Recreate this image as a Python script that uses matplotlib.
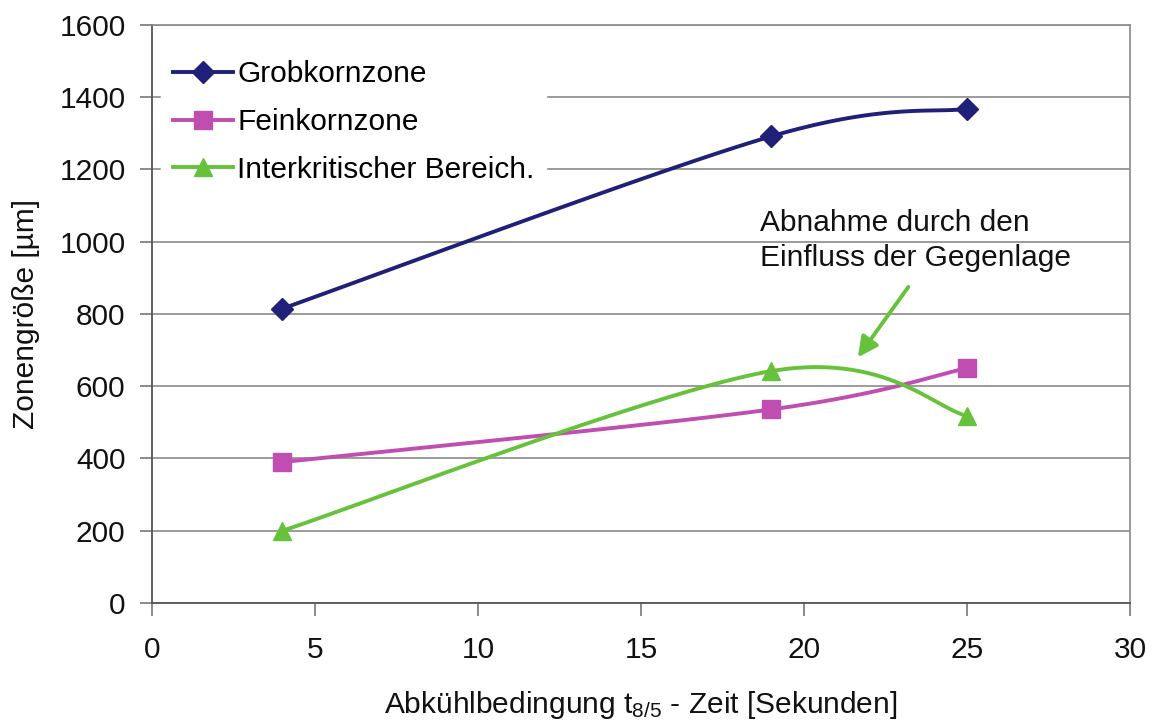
import numpy as np
import matplotlib
matplotlib.use("Agg")
import matplotlib.pyplot as plt
from matplotlib.lines import Line2D

plt.rcParams['font.family'] = ['Liberation Sans', 'DejaVu Sans']
plt.rcParams['mathtext.fontset'] = 'custom'
plt.rcParams['mathtext.rm'] = 'Liberation Sans'
plt.rcParams['mathtext.it'] = 'Liberation Sans'

# Abkühlzeit t8/5 in Sekunden
zeit = [4, 19, 25]
grobkorn = [815, 1292, 1368]
feinkorn = [390, 536, 650]
interkritisch = [200, 642, 518]

labels = ["Grobkornzone", "Feinkornzone", "Interkritischer Bereich."]
colors = ["#202078", "#c04db0", "#66c23a"]
markers = ["D", "s", "^"]

FS = 21.5


def smooth(x, y, n=60):
    # Excel-style smoothed line: cubic Bezier segments with Catmull-Rom tangents
    x = np.asarray(x, float)
    y = np.asarray(y, float)
    px = np.concatenate([[x[0]], x, [x[-1]]])
    py = np.concatenate([[y[0]], y, [y[-1]]])
    xs, ys = [], []
    t = np.linspace(0, 1, n)
    for i in range(1, len(px) - 2):
        p0 = np.array([px[i], py[i]])
        p3 = np.array([px[i + 1], py[i + 1]])
        c1 = p0 + (np.array([px[i + 1], py[i + 1]]) - np.array([px[i - 1], py[i - 1]])) / 6
        c2 = p3 - (np.array([px[i + 2], py[i + 2]]) - np.array([px[i], py[i]])) / 6
        b = (np.outer((1 - t) ** 3, p0) + np.outer(3 * (1 - t) ** 2 * t, c1)
             + np.outer(3 * (1 - t) * t ** 2, c2) + np.outer(t ** 3, p3))
        xs.extend(b[:, 0])
        ys.extend(b[:, 1])
    return xs, ys


fig = plt.figure(figsize=(11.55, 7.2), dpi=100)
ax = fig.add_axes([0.1316, 0.1625, 0.8468, 0.8028])

for vals, lab, c, m in zip([grobkorn, feinkorn, interkritisch], labels, colors, markers):
    sx, sy = smooth(zeit, vals)
    ax.plot(sx, sy, color=c, lw=2.8, zorder=3)
    ax.plot(zeit, vals, ls="none", marker=m, color=c, ms=13.5 if m != "D" else 11.5, zorder=4)

ax.set_xlim(0, 30)
ax.set_ylim(0, 1600)
ax.set_xticks(range(0, 31, 5))
ax.set_yticks(range(0, 1601, 200))
ax.yaxis.grid(True, color="#8a8a8a", lw=1.2)
ax.set_axisbelow(True)
ax.tick_params(direction="out", length=9, width=1.2, color="#777777",
               labelsize=FS, labelcolor="#111111", pad=10)
ax.tick_params(axis="x", pad=15)
for side in ["top", "right"]:
    ax.spines[side].set_color("#8a8a8a")
    ax.spines[side].set_linewidth(1.2)
for side in ["left", "bottom"]:
    ax.spines[side].set_color("#555555")
    ax.spines[side].set_linewidth(1.3)

ax.set_xlabel("Abkühlbedingung t$_{8/5}$ - Zeit [Sekunden]", fontsize=FS,
              color="#111111", labelpad=18)
ax.set_ylabel("Zonengröße [µm]", fontsize=FS, color="#111111", labelpad=14)

handles = [Line2D([], [], color=c, lw=2.8, marker=m, ms=13 if m != "D" else 11)
           for c, m in zip(colors, markers)]
leg = ax.legend(handles, labels, loc="upper left", bbox_to_anchor=(0.0, 0.975),
                fontsize=FS, frameon=True, fancybox=False, edgecolor="white",
                framealpha=1.0, handlelength=2.0, handletextpad=0.15,
                labelspacing=0.66, borderpad=0.4, borderaxespad=0.3)

ax.text(18.65, 1090, "Abnahme durch den\nEinfluss der Gegenlage", fontsize=FS,
        color="#111111", va="top", ha="left", linespacing=1.32)
ax.annotate("", xy=(21.65, 680), xytext=(23.2, 875),
            arrowprops=dict(arrowstyle="-|>", color=colors[2], lw=2.8,
                            mutation_scale=30, shrinkA=0, shrinkB=0))

fig.savefig("out.png", dpi=100)
